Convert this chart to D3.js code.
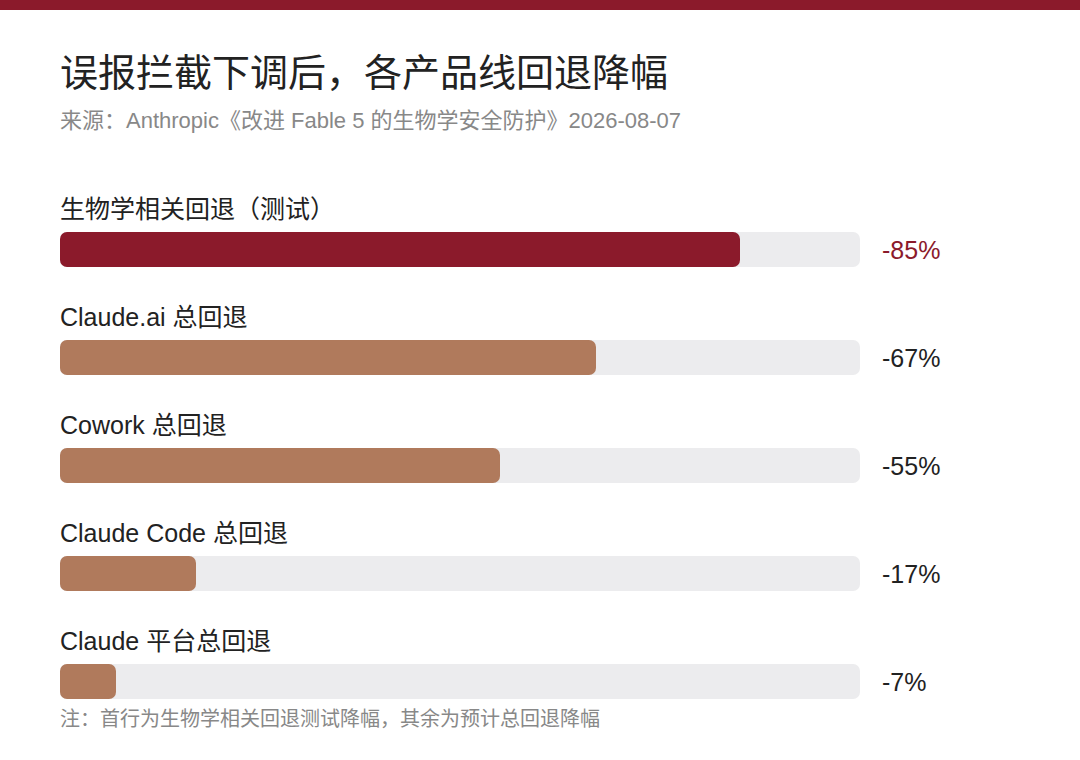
<!DOCTYPE html>
<html><head><meta charset="utf-8">
<script src="https://cdn.jsdelivr.net/npm/d3@7"></script>
<style>body{margin:0;background:#fff}svg{display:block;font-family:"Liberation Sans","Noto Sans CJK SC",sans-serif}</style>
</head><body>
<script>
const categories = ["生物学相关回退（测试）","Claude.ai 总回退","Cowork 总回退","Claude Code 总回退","Claude 平台总回退"];
const values = [85, 67, 55, 17, 7];
const valueLabels = ["-85%","-67%","-55%","-17%","-7%"];

const W = 1080, H = 760;
const svg = d3.select("body").append("svg").attr("width", W).attr("height", H);
svg.append("rect").attr("x",0).attr("y",0).attr("width",W).attr("height",10).attr("fill","#8b1a2b");
svg.append("text").attr("x",60).attr("y",86).attr("font-size",38).attr("fill","#222").text("误报拦截下调后，各产品线回退降幅");
svg.append("text").attr("x",60).attr("y",128).attr("font-size",22).attr("fill","#888").text("来源：Anthropic《改进 Fable 5 的生物学安全防护》2026-08-07");

const x = d3.scaleLinear().domain([0,100]).range([60,860]);
const y = d3.scaleBand().domain(categories).range([232, 232+108*5]).paddingInner(0);
const bh = 35;

const g = svg.selectAll("g.row").data(categories).join("g").attr("class","row");
g.append("text").attr("x",60).attr("y",c=>y(c)-14).attr("font-size",25).attr("fill","#222").text(c=>c);
g.append("rect").attr("x",x(0)).attr("y",c=>y(c)).attr("width",x(100)-x(0)).attr("height",bh).attr("rx",7).attr("fill","#ececee");
g.append("rect").attr("x",x(0)).attr("y",c=>y(c)).attr("width",(c,i)=>x(values[i])-x(0)).attr("height",bh).attr("rx",7)
  .attr("fill",(c,i)=>i===0?"#8b1a2b":"#b07a5c");
g.append("text").attr("x",882).attr("y",c=>y(c)+bh/2+9).attr("font-size",25)
  .attr("fill",(c,i)=>i===0?"#8b1a2b":"#222").text((c,i)=>valueLabels[i]);

svg.append("text").attr("x",60).attr("y",726).attr("font-size",20).attr("fill","#888").text("注：首行为生物学相关回退测试降幅，其余为预计总回退降幅");
</script>
</body></html>
